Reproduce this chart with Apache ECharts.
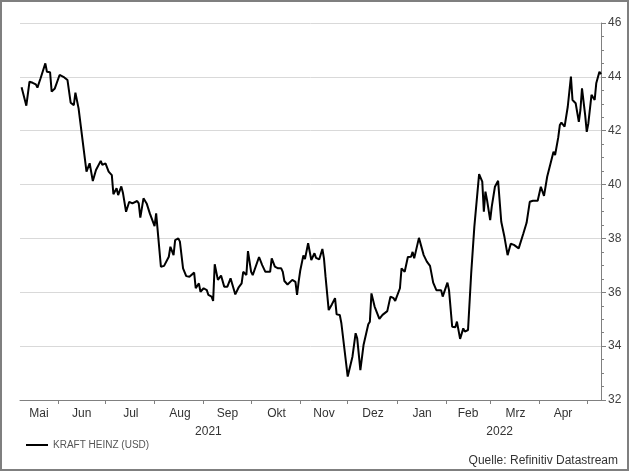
<!DOCTYPE html>
<html><head><meta charset="utf-8">
<script src="https://cdn.jsdelivr.net/npm/echarts@6/dist/echarts.min.js"></script>
<style>html,body{margin:0;padding:0;background:#fff}#c{width:629px;height:471px}</style>
</head><body><div id="c"></div>
<script>
const startDate = '2021-05-08';
const endDate = '2022-05-10';
const monthNames = ['Jan','Feb','Mrz','Apr','Mai','Jun','Jul','Aug','Sep','Okt','Nov','Dez'];
const yMin = 32, yMax = 46, yStep = 2;
const seriesName = 'KRAFT HEINZ (USD)';
const sourceText = 'Quelle: Refinitiv Datastream';

const priceDates = [
'2021-05-09','2021-05-12','2021-05-14','2021-05-16','2021-05-18','2021-05-19','2021-05-21','2021-05-24','2021-05-25','2021-05-27','2021-05-28','2021-05-30',
'2021-06-02','2021-06-05','2021-06-07','2021-06-09','2021-06-11','2021-06-12','2021-06-14','2021-06-15','2021-06-19','2021-06-21','2021-06-23','2021-06-25','2021-06-28','2021-06-29',
'2021-07-01','2021-07-03','2021-07-05','2021-07-06','2021-07-08','2021-07-09','2021-07-11','2021-07-12','2021-07-14','2021-07-16','2021-07-18','2021-07-21','2021-07-22','2021-07-23','2021-07-25','2021-07-27','2021-07-29','2021-07-30',
'2021-08-01','2021-08-02','2021-08-05','2021-08-07','2021-08-10','2021-08-11','2021-08-13','2021-08-14','2021-08-16','2021-08-17','2021-08-19','2021-08-21','2021-08-23','2021-08-24','2021-08-26','2021-08-27','2021-08-29','2021-08-30',
'2021-09-01','2021-09-03','2021-09-04','2021-09-06','2021-09-07','2021-09-08','2021-09-10','2021-09-12','2021-09-14','2021-09-16','2021-09-18','2021-09-19','2021-09-21','2021-09-23','2021-09-25','2021-09-26','2021-09-28','2021-09-29',
'2021-10-01','2021-10-02','2021-10-06','2021-10-08','2021-10-10','2021-10-13','2021-10-14','2021-10-16','2021-10-18','2021-10-20','2021-10-21','2021-10-22','2021-10-24','2021-10-25','2021-10-27','2021-10-29','2021-10-30','2021-10-31',
'2021-11-01','2021-11-03','2021-11-04','2021-11-06','2021-11-08','2021-11-10','2021-11-11','2021-11-13','2021-11-15','2021-11-16','2021-11-17','2021-11-19','2021-11-20','2021-11-21','2021-11-23','2021-11-24','2021-11-26','2021-11-27','2021-11-28',
'2021-12-01','2021-12-04','2021-12-06','2021-12-07','2021-12-09','2021-12-11','2021-12-14','2021-12-15','2021-12-16','2021-12-18','2021-12-21','2021-12-23','2021-12-24','2021-12-26','2021-12-28','2021-12-30','2021-12-31',
'2022-01-03','2022-01-04','2022-01-06','2022-01-07','2022-01-08','2022-01-10','2022-01-11','2022-01-12','2022-01-15','2022-01-16','2022-01-18','2022-01-20','2022-01-22','2022-01-24','2022-01-26','2022-01-27','2022-01-29','2022-01-30',
'2022-02-02','2022-02-03','2022-02-05','2022-02-07','2022-02-08','2022-02-09','2022-02-10','2022-02-12','2022-02-13','2022-02-15','2022-02-17','2022-02-19','2022-02-20','2022-02-22','2022-02-24','2022-02-25','2022-02-26','2022-02-27',
'2022-03-01','2022-03-02','2022-03-04','2022-03-05','2022-03-06','2022-03-08','2022-03-10','2022-03-12','2022-03-14','2022-03-16','2022-03-17','2022-03-19','2022-03-20','2022-03-22','2022-03-24','2022-03-26','2022-03-28','2022-03-31',
'2022-04-02','2022-04-03','2022-04-04','2022-04-06','2022-04-10','2022-04-11','2022-04-13','2022-04-14','2022-04-15','2022-04-17','2022-04-19','2022-04-21','2022-04-22','2022-04-24','2022-04-26','2022-04-27','2022-04-28','2022-04-30',
'2022-05-01','2022-05-02','2022-05-04','2022-05-06','2022-05-07','2022-05-09','2022-05-10'
];
const prices = [
43.61,42.93,43.82,43.78,43.72,43.60,43.95,44.50,44.19,44.17,43.45,43.57,
44.07,43.98,43.88,43.04,42.95,43.41,42.83,42.77,40.48,40.79,40.13,40.54,40.88,40.73,
40.79,40.48,40.35,39.64,39.86,39.61,39.93,39.70,38.99,39.36,39.30,39.39,39.30,38.77,39.49,39.30,38.93,38.96,
38.46,38.93,36.95,36.98,37.32,37.69,37.38,37.94,38.00,37.88,36.89,36.60,36.58,36.58,36.73,36.15,36.33,36.02,
36.15,36.08,35.90,35.84,35.68,37.04,36.46,36.62,36.21,36.21,36.52,36.54,35.92,36.17,36.33,36.76,36.64,37.53,
36.76,36.64,37.31,37.01,36.76,36.76,37.26,36.95,36.89,36.89,36.76,36.42,36.29,36.33,36.46,36.39,35.90,36.39,
36.80,37.37,37.23,37.82,37.20,37.45,37.28,37.22,37.61,37.26,36.58,35.34,35.34,35.55,35.78,35.18,35.16,34.85,34.79,
32.87,33.61,34.48,34.29,33.11,34.04,34.81,34.91,35.96,35.47,35.01,35.16,35.22,35.30,35.84,35.78,35.68,
36.15,36.89,36.76,36.80,37.31,37.32,37.50,37.26,38.02,38.00,37.38,37.14,36.98,36.36,36.08,36.11,36.08,35.84,
36.36,36.08,34.72,34.70,34.91,34.93,34.27,34.66,34.54,34.60,36.70,38.44,38.44,40.39,40.11,38.99,39.74,39.43,
38.68,39.18,39.92,39.86,40.14,38.62,38.06,37.38,37.80,37.76,37.78,37.63,37.63,38.19,38.58,39.36,39.40,39.40,
39.92,39.88,39.58,40.29,41.22,41.10,41.75,42.21,42.30,42.15,42.89,44.01,43.14,43.02,42.33,42.77,43.57,42.58,
41.96,42.27,43.33,43.14,43.76,44.19,44.10
];

// calendar days of the x axis
const days = [];
(function(){
  const s = new Date(startDate + 'T00:00:00Z'), e = new Date(endDate + 'T00:00:00Z');
  for (let t = s.getTime(); t <= e.getTime(); t += 86400000) days.push(new Date(t).toISOString().slice(0,10));
})();
const priceMap = {};
priceDates.forEach((d,i) => { priceMap[d] = prices[i]; });
const lineData = days.map(d => (d in priceMap ? priceMap[d] : null));

// month label positions (middle of the visible part of each month)
const monthStarts = [0];
days.forEach((d,i) => { if (i > 0 && d.slice(8) === '01') monthStarts.push(i); });
monthStarts.push(days.length - 1);
const monthLabels = {};
for (let k = 0; k < monthStarts.length - 1; k++) {
  const s = monthStarts[k], e = monthStarts[k+1];
  if (e - s >= 20) monthLabels[Math.round((s + e) / 2)] = monthNames[parseInt(days[s].slice(5,7),10) - 1];
}
const yearStarts = [0];
days.forEach((d,i) => { if (i > 0 && d.slice(5) === '01-01') yearStarts.push(i); });
yearStarts.push(days.length - 1);
const yearLabels = {};
for (let k = 0; k < yearStarts.length - 1; k++) {
  const s = yearStarts[k], e = yearStarts[k+1];
  yearLabels[Math.round((s + e) / 2)] = days[s].slice(0,4);
}

const FONT = "'Liberation Sans', Arial, sans-serif";
const chart = echarts.init(document.getElementById('c'), null, {renderer: 'canvas'});
chart.setOption({
  animation: false,
  backgroundColor: '#fff',
  textStyle: {fontFamily: FONT},
  title: {
    text: sourceText, right: 11, bottom: 4, padding: 0,
    textStyle: {fontSize: 12, fontWeight: 'normal', color: '#333', fontFamily: FONT}
  },
  legend: {
    data: [seriesName], left: 21, top: 435, icon: 'rect', itemWidth: 22, itemHeight: 2,
    textStyle: {fontSize: 10, color: '#555', fontFamily: FONT}
  },
  graphic: [{
    type: 'rect', shape: {x: 1, y: 1, width: 627, height: 469},
    style: {fill: 'none', stroke: '#7f7f7f', lineWidth: 2}, silent: true
  }],
  grid: {left: 20, right: 28, top: 23, bottom: 71, containLabel: false},
  xAxis: [{
    type: 'category', data: days, boundaryGap: false,
    axisLine: {show: true, lineStyle: {color: '#808080', width: 1}},
    axisTick: {show: true, interval: (i, v) => v.slice(8) === '01' && i > 0, length: 4, lineStyle: {color: '#808080'}},
    axisLabel: {interval: (i) => (i in monthLabels), formatter: (v, i) => monthLabels[i] || '',
      fontSize: 12, color: '#333', margin: 8, fontFamily: FONT},
    splitLine: {show: false}
  }, {
    type: 'category', data: days, boundaryGap: false, position: 'bottom', offset: 18,
    axisLine: {show: false}, axisTick: {show: false},
    axisLabel: {interval: (i) => (i in yearLabels), formatter: (v, i) => yearLabels[i] || '',
      fontSize: 12, color: '#333', margin: 8, fontFamily: FONT},
    splitLine: {show: false}
  }],
  yAxis: {
    type: 'value', position: 'right', min: yMin, max: yMax, interval: yStep,
    axisLine: {show: true, lineStyle: {color: '#808080'}},
    axisTick: {show: true, length: 5, lineStyle: {color: '#808080'}},
    minorTick: {show: true, splitNumber: 4, length: 3, lineStyle: {color: '#808080'}},
    splitLine: {show: true, lineStyle: {color: '#d9d9d9', width: 1}},
    axisLabel: {fontSize: 12, color: '#404040', margin: 7, fontFamily: FONT}
  },
  series: [{
    name: seriesName, type: 'line', data: lineData, connectNulls: true,
    showSymbol: false, symbol: 'none', color: '#000',
    lineStyle: {color: '#000', width: 2}, xAxisIndex: 0
  }]
});
</script></body></html>
